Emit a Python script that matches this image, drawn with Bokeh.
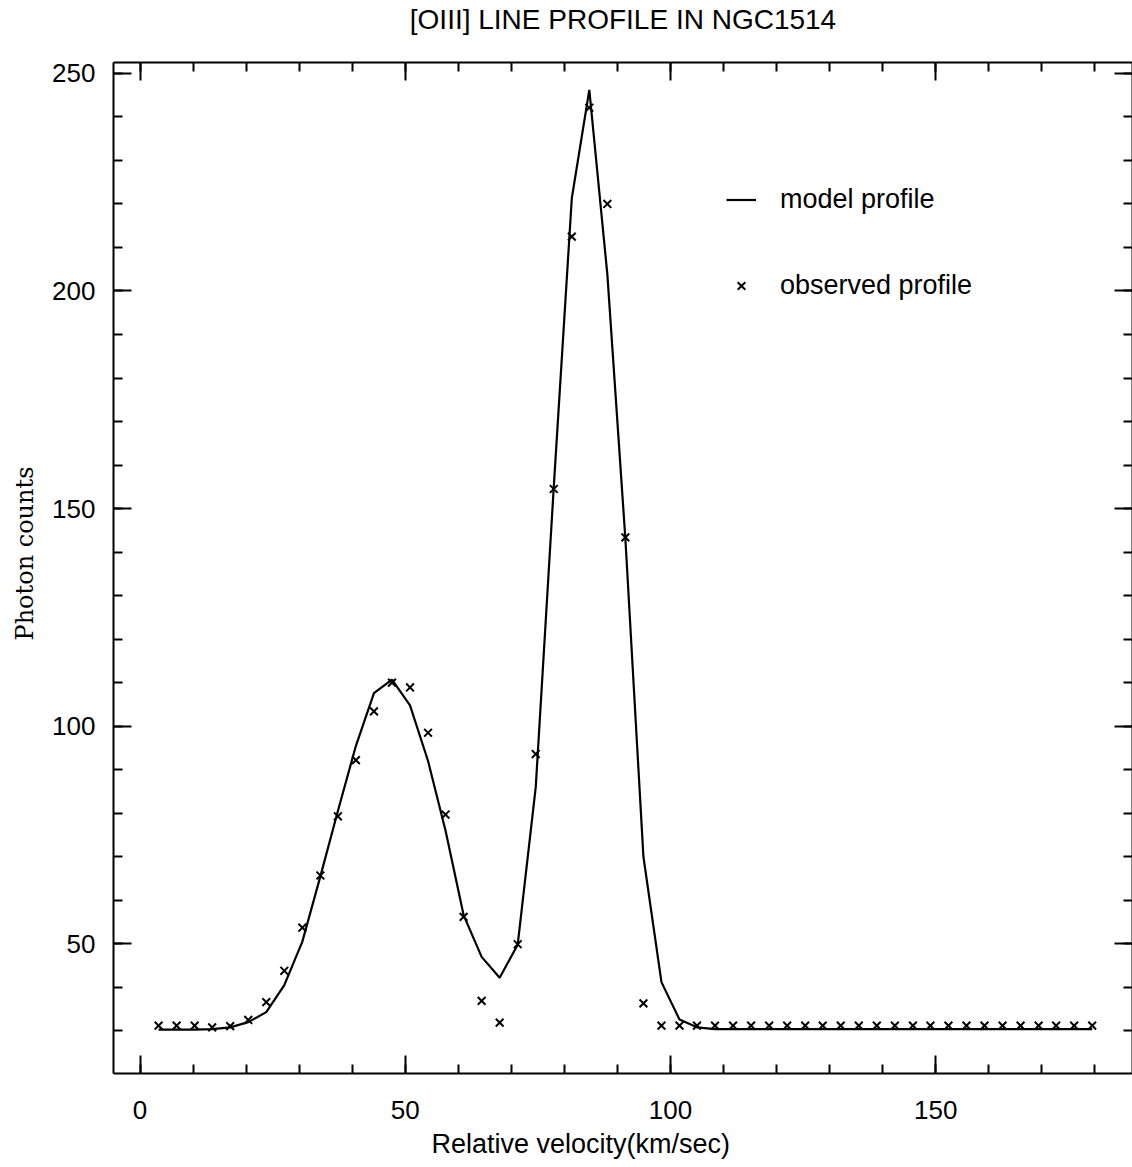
from bokeh.plotting import figure
from bokeh.models import (LinearAxis, SingleIntervalTicker, Range1d,
                          Legend, LegendItem, ColumnDataSource, Title)
from bokeh.embed import file_html
from bokeh.resources import INLINE

# ---- data ----
velocity = [3.5, 6.9, 10.3, 13.6, 17.0, 20.4, 23.8, 27.2, 30.6, 34.0,
            37.3, 40.7, 44.1, 47.5, 50.9, 54.3, 57.6, 61.0, 64.4, 67.8,
            71.2, 74.6, 78.0, 81.4, 84.7, 88.1, 91.5, 94.9, 98.3, 101.7,
            105.0, 108.4, 111.8, 115.2, 118.6, 122.0, 125.4, 128.7, 132.1, 135.5,
            138.9, 142.3, 145.7, 149.0, 152.4, 155.8, 159.2, 162.6, 166.0, 169.4,
            172.7, 176.1, 179.5]

model_counts = [30.3, 30.3, 30.3, 30.4, 30.8, 32.0, 34.3, 40.5, 50.5, 65.5,
                80.5, 95.5, 107.6, 110.7, 104.8, 92.0, 76.0, 56.6, 47.0, 42.2,
                49.8, 86.0, 155.0, 221.3, 246.2, 203.8, 143.0, 70.0, 41.2, 32.6,
                30.8, 30.4, 30.4, 30.4, 30.4, 30.4, 30.4, 30.4, 30.4, 30.4,
                30.4, 30.4, 30.4, 30.4, 30.4, 30.4, 30.4, 30.4, 30.4, 30.4,
                30.4, 30.4, 30.4]

observed_counts = [31.2, 31.2, 31.2, 30.8, 31.1, 32.5, 36.6, 43.8, 53.7, 65.7,
                   79.3, 92.2, 103.4, 110.0, 108.9, 98.5, 79.7, 56.2, 36.9, 31.9,
                   49.9, 93.6, 154.5, 212.5, 242.1, 220.0, 143.4, 36.3, 31.2, 31.2,
                   31.2, 31.2, 31.2, 31.2, 31.2, 31.2, 31.2, 31.2, 31.2, 31.2,
                   31.2, 31.2, 31.2, 31.2, 31.2, 31.2, 31.2, 31.2, 31.2, 31.2,
                   31.2, 31.2, 31.2]

title_text = "[OIII] LINE PROFILE IN NGC1514"
x_label = "Relative velocity(km/sec)"
y_label = "Photon counts"
legend_labels = ["model profile", "observed profile"]

SANS = "Liberation Sans"
SERIF = "DejaVu Serif"

source = ColumnDataSource(data=dict(v=velocity, m=model_counts, o=observed_counts))

p = figure(width=1132, height=1165, output_backend="svg", toolbar_location=None,
           x_range=Range1d(-5.0, 187.1), y_range=Range1d(20.2, 252.5),
           min_border_left=110, min_border_right=0, min_border_top=40,
           min_border_bottom=90, x_axis_location=None, y_axis_location=None,
           background_fill_color="white", border_fill_color="white")
p.outline_line_color = None
p.xgrid.visible = False
p.ygrid.visible = False


def style_axis(ax, show_labels):
    ax.axis_line_color = "black"
    ax.axis_line_width = 2
    ax.major_tick_line_color = "black"
    ax.major_tick_line_width = 2
    ax.minor_tick_line_color = "black"
    ax.minor_tick_line_width = 2
    ax.major_tick_in = 18
    ax.major_tick_out = 0
    ax.minor_tick_in = 9
    ax.minor_tick_out = 0
    if show_labels:
        ax.major_label_text_font = SANS
        ax.major_label_text_font_size = "26px"
        ax.major_label_text_color = "black"
    else:
        ax.major_label_text_color = None
        ax.major_label_text_font_size = "0px"
        ax.major_label_standoff = 0


# bottom axis + x label
xb = LinearAxis(ticker=SingleIntervalTicker(interval=50, num_minor_ticks=5))
style_axis(xb, True)
xb.major_label_standoff = 27
p.add_layout(xb, "below")

x_title = Title(text=x_label, align="left", offset=318, standoff=12,
                vertical_align="middle",
                text_font=SANS, text_font_size="27px", text_font_style="normal",
                text_color="black")
p.add_layout(x_title, "below")

# left axis + y label
yl = LinearAxis(ticker=SingleIntervalTicker(interval=50, num_minor_ticks=5))
style_axis(yl, True)
yl.major_label_standoff = 18
p.add_layout(yl, "left")

y_title = Title(text=y_label, align="left", offset=433, standoff=19,
                vertical_align="middle",
                text_font=SERIF, text_font_size="24px", text_font_style="normal",
                text_color="black")
p.add_layout(y_title, "left")

# mirrored top axis (ticks only) carrying the chart title
xt = LinearAxis(ticker=SingleIntervalTicker(interval=50, num_minor_ticks=5))
style_axis(xt, False)
xt.axis_label = title_text
xt.axis_label_text_font = SANS
xt.axis_label_text_font_size = "28px"
xt.axis_label_text_font_style = "normal"
xt.axis_label_text_color = "black"
xt.axis_label_standoff = 28
p.add_layout(xt, "above")

# mirrored right axis (ticks only)
yr = LinearAxis(ticker=SingleIntervalTicker(interval=50, num_minor_ticks=5))
style_axis(yr, False)
yr.axis_label_standoff = 0
p.add_layout(yr, "right")

line_r = p.line("v", "m", source=source, line_color="black", line_width=2.2)
pts_r = p.scatter("v", "o", source=source, marker="x", size=11,
                  line_color="black", line_width=2)

legend = Legend(items=[LegendItem(label=legend_labels[0], renderers=[line_r]),
                       LegendItem(label=legend_labels[1], renderers=[pts_r])],
                location=(613, 772), orientation="vertical")
legend.label_text_font = SANS
legend.label_text_font_size = "27px"
legend.label_text_color = "black"
legend.label_height = 27
legend.glyph_height = 27
legend.glyph_width = 30
legend.label_standoff = 24
legend.spacing = 55
legend.padding = 0
legend.margin = 0
legend.border_line_alpha = 0
legend.background_fill_alpha = 0
p.add_layout(legend, "center")

open("out.html", "w").write(file_html(p, INLINE))
